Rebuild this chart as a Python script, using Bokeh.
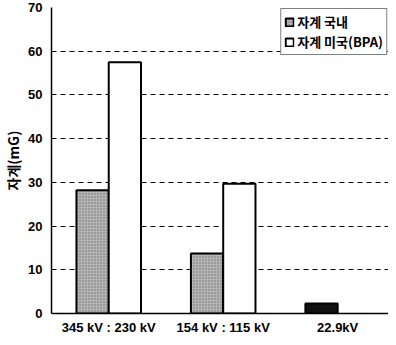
from bokeh.plotting import figure
from bokeh.models import Range1d, FixedTicker, ColumnDataSource, CDSView, IndexFilter, Legend, LegendItem
from bokeh.transform import dodge
from bokeh.embed import file_html
from bokeh.resources import INLINE

categories = ["345 kV : 230 kV", "154 kV : 115 kV", "22.9kV"]
positions = [0.5, 1.5, 2.5]
domestic = [28.2, 13.7, 2.3]
usa_bpa = [57.5, 29.7, 0.0]
series_names = ["자계 국내", "자계 미국(BPA)"]
y_ticks = [0, 10, 20, 30, 40, 50, 60, 70]

src = ColumnDataSource(dict(x=positions, dom=domestic, us=usa_bpa))

p = figure(width=388, height=337, output_backend="svg", toolbar_location=None,
           x_range=Range1d(0, 2.944), y_range=Range1d(0, 70),
           min_border_left=44, min_border_top=7, min_border_right=0, min_border_bottom=24)
p.outline_line_color = None
p.background_fill_color = "white"

W = 0.282
r_dom = p.vbar(x=dodge("x", -W / 2, range=p.x_range), top="dom", width=W, source=src,
               view=CDSView(filter=IndexFilter([0, 1])),
               fill_color="#b5b5b5", line_color="black", line_width=2,
               hatch_pattern="dot", hatch_color="#6e6e6e", hatch_scale=3, hatch_weight=1)
r_dom2 = p.vbar(x=dodge("x", -W / 2, range=p.x_range), top="dom", width=W, source=src,
                view=CDSView(filter=IndexFilter([2])),
                fill_color="#111111", line_color="black", line_width=2)
r_us = p.vbar(x=dodge("x", W / 2, range=p.x_range), top="us", width=W, source=src,
              view=CDSView(filter=IndexFilter([0, 1])),
              fill_color="white", line_color="black", line_width=2)

p.xgrid.grid_line_color = None
p.ygrid.grid_line_color = "black"
p.ygrid.grid_line_dash = "5 4"
p.ygrid.grid_line_width = 1
p.ygrid.ticker = FixedTicker(ticks=y_ticks[1:])

p.yaxis.ticker = FixedTicker(ticks=y_ticks)
p.yaxis.major_tick_in = 0
p.yaxis.major_tick_out = 0
p.yaxis.minor_tick_line_color = None
p.yaxis.axis_line_color = "black"
p.yaxis.axis_line_width = 1.5
p.yaxis.major_label_text_font = "Liberation Sans"
p.yaxis.major_label_text_font_style = "bold"
p.yaxis.major_label_text_font_size = "13px"
p.yaxis.major_label_text_color = "black"
p.yaxis.major_label_standoff = 9
p.yaxis.axis_label = "자계(mG)"
p.yaxis.axis_label_text_font = "Noto Sans CJK KR"
p.yaxis.axis_label_text_font_style = "bold"
p.yaxis.axis_label_text_font_size = "14px"
p.yaxis.axis_label_text_color = "black"
p.yaxis.axis_label_standoff = 2

p.xaxis.ticker = FixedTicker(ticks=positions)
p.xaxis.major_label_overrides = {pos: lab for pos, lab in zip(positions, categories)}
p.xaxis.major_tick_in = 0
p.xaxis.major_tick_out = 0
p.xaxis.minor_tick_line_color = None
p.xaxis.axis_line_color = "black"
p.xaxis.axis_line_width = 1.5
p.xaxis.major_label_text_font = "Liberation Sans"
p.xaxis.major_label_text_font_style = "bold"
p.xaxis.major_label_text_font_size = "13px"
p.xaxis.major_label_text_color = "black"
p.xaxis.major_label_standoff = 6

legend = Legend(items=[LegendItem(label=series_names[0], renderers=[r_dom]),
                       LegendItem(label=series_names[1], renderers=[r_us])],
                location="top_right")
legend.border_line_color = "black"
legend.border_line_width = 1
legend.background_fill_alpha = 1
legend.label_text_font = "Noto Sans CJK KR"
legend.label_text_font_style = "bold"
legend.label_text_font_size = "13px"
legend.label_text_color = "black"
legend.glyph_width = 10
legend.glyph_height = 10
legend.label_standoff = 3
legend.spacing = 1
legend.padding = 3
legend.margin = 1
legend.label_height = 15
p.add_layout(legend)

open("out.html", "w").write(file_html(p, INLINE))
